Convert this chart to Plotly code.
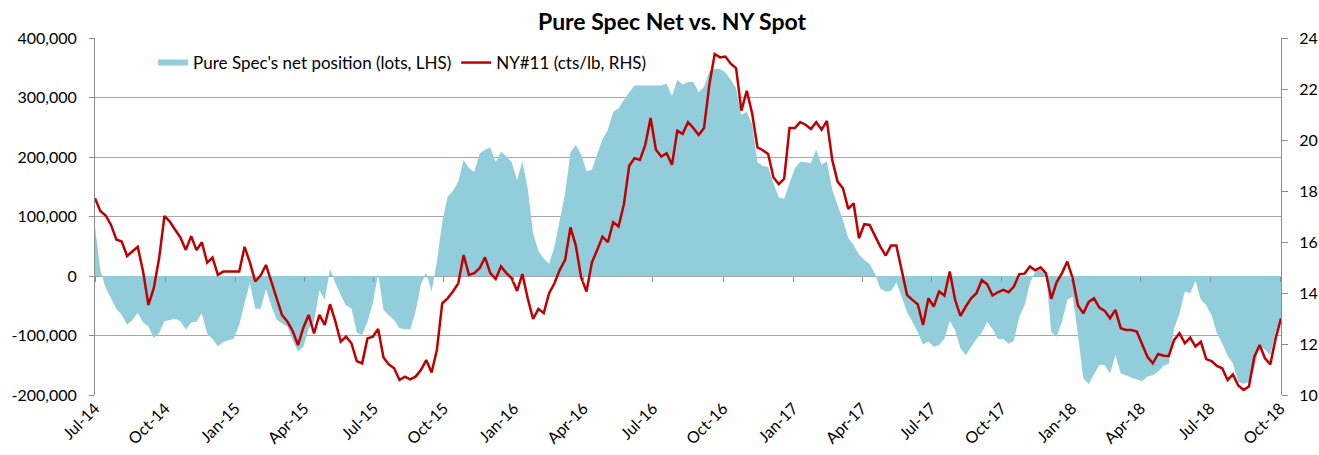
import pandas as pd
import plotly.graph_objects as go

# ---------------- data (weekly, Tuesdays, from 1 Jul 2014) ----------------
start_date = "2014-07-01"

# Pure Spec's net position, thousand lots (LHS)
net_position_k = [
    83, 10, -20, -38, -55, -65, -82, -74, -62, -78,
    -85, -104, -96, -76, -74, -72, -76, -90, -78, -77,
    -62, -97, -106, -118, -111, -108, -105, -82, -45, -12,
    -55, -55, -22, -50, -73, -80, -85, -108, -127, -119,
    -88, -77, -24, -40, 12, -12, -32, -50, -54, -95,
    -99, -77, -46, 4, -57, -66, -74, -88, -89, -90,
    -60, -14, 6, -26, 24, 91, 133, 143, 159, 195,
    181, 175, 206, 212, 216, 191, 209, 201, 191, 161,
    193, 147, 72, 42, 29, 21, 49, 94, 139, 208,
    220, 204, 176, 178, 205, 230, 246, 276, 282, 296,
    309, 320, 320, 320, 320, 320, 320, 323, 302, 330,
    322, 326, 326, 309, 318, 344, 348, 348, 342, 330,
    316, 271, 276, 255, 191, 185, 183, 156, 132, 130,
    156, 181, 192, 191, 190, 212, 187, 193, 145, 119,
    94, 64, 52, 36, 27, 20, 4, -21, -26, -25,
    -11, -35, -61, -77, -94, -115, -110, -119, -116, -105,
    -75, -91, -122, -133, -119, -106, -95, -77, -89, -106,
    -106, -114, -109, -69, -49, -12, 7, 13, 6, -94,
    -102, -77, -40, -35, -99, -172, -182, -165, -149, -150,
    -164, -133, -164, -167, -171, -174, -177, -169, -167, -161,
    -151, -147, -88, -63, -26, -29, -8, -40, -49, -66,
    -96, -113, -134, -147, -178, -181, -178, -155, -117, -124,
    -133, -94, -71,
]

# NY#11 raw sugar, cts/lb (RHS)
ny11 = [
    17.72, 17.22, 17.04, 16.67, 16.10, 16.02, 15.45, 15.65, 15.81, 14.84,
    13.53, 14.19, 15.36, 17.02, 16.80, 16.48, 16.17, 15.69, 16.23, 15.68,
    15.99, 15.19, 15.39, 14.71, 14.84, 14.84, 14.84, 14.84, 15.81, 15.19,
    14.45, 14.68, 15.10, 14.45, 13.73, 13.14, 12.88, 12.51, 11.96, 12.64,
    13.14, 12.42, 13.14, 12.75, 13.56, 12.88, 12.09, 12.29, 12.03, 11.33,
    11.24, 12.22, 12.29, 12.59, 11.47, 11.20, 11.05, 10.59, 10.72, 10.61,
    10.72, 10.98, 11.37, 10.88, 11.77, 13.60, 13.79, 14.06, 14.38, 15.49,
    14.71, 14.78, 14.97, 15.40, 14.78, 14.55, 15.04, 14.78, 14.58, 14.08,
    14.74, 13.79, 12.98, 13.38, 13.21, 13.99, 14.38, 14.91, 15.30, 16.57,
    15.86, 14.61, 14.06, 15.19, 15.69, 16.21, 15.99, 16.78, 16.61, 17.48,
    18.99, 19.29, 19.22, 19.81, 20.86, 19.62, 19.35, 19.48, 19.03, 20.36,
    20.24, 20.70, 20.47, 20.20, 20.47, 22.17, 23.37, 23.24, 23.27, 22.99,
    22.82, 21.15, 21.93, 21.05, 19.71, 19.60, 19.45, 18.53, 18.27, 18.48,
    20.47, 20.47, 20.70, 20.60, 20.43, 20.70, 20.40, 20.75, 19.22, 18.37,
    18.11, 17.30, 17.52, 16.15, 16.70, 16.67, 16.24, 15.82, 15.47, 15.86,
    15.86, 14.91, 13.92, 13.73, 13.56, 12.75, 13.79, 13.47, 14.06, 13.90,
    14.84, 13.73, 13.10, 13.47, 13.79, 13.99, 14.51, 14.34, 13.90, 14.03,
    14.12, 14.03, 14.25, 14.74, 14.76, 15.04, 14.89, 15.01, 14.78, 13.77,
    14.42, 14.78, 15.23, 14.58, 13.51, 13.20, 13.65, 13.79, 13.43, 13.30,
    13.01, 13.34, 12.62, 12.55, 12.55, 12.49, 11.96, 11.50, 11.24, 11.61,
    11.54, 11.53, 12.16, 12.42, 12.03, 12.25, 11.90, 12.09, 11.41, 11.33,
    11.14, 11.05, 10.59, 10.81, 10.37, 10.20, 10.33, 11.50, 11.96, 11.44,
    11.20, 12.22, 13.01,
]

tick_labels = ["Jul-14", "Oct-14", "Jan-15", "Apr-15", "Jul-15", "Oct-15",
               "Jan-16", "Apr-16", "Jul-16", "Oct-16", "Jan-17", "Apr-17",
               "Jul-17", "Oct-17", "Jan-18", "Apr-18", "Jul-18", "Oct-18"]
left_ticks = [-200000, -100000, 0, 100000, 200000, 300000, 400000]

assert len(net_position_k) == len(ny11)

dates = pd.date_range(start_date, periods=len(ny11), freq="7D")
tick_dates = pd.date_range("2014-07-01", periods=len(tick_labels), freq="QS")
net_lots = [v * 1000 for v in net_position_k]

# ---------------- figure ----------------
FONT = "Lato, Carlito, Calibri, sans-serif"
GRID = "#A6A6A6"
AXIS = "#8C8C8C"
xrange_ = [dates[0], dates[-1]]
W, H = 1319, 455

fig = go.Figure()
fig.add_trace(go.Scatter(
    x=dates, y=net_lots, name="Pure Spec's net position (lots, LHS)",
    mode="none", fill="tozeroy", fillcolor="#92CDDC",
    hoverinfo="skip",
))
fig.add_trace(go.Scatter(
    x=dates, y=ny11, name="NY#11 (cts/lb, RHS)", yaxis="y2",
    mode="lines", line=dict(color="#C00000", width=2.5),
))
# carrier for the tick marks drawn on the zero line
fig.add_trace(go.Scatter(
    x=dates, y=net_lots, xaxis="x2", mode="none", showlegend=False,
    hoverinfo="skip",
))

fig.update_layout(
    width=W, height=H,
    margin=dict(l=95, r=38, t=38, b=60, autoexpand=False),
    plot_bgcolor="white", paper_bgcolor="white",
    font=dict(family=FONT, size=16, color="#000000"),
    title=dict(text="<b>Pure Spec Net vs. NY Spot</b>",
               x=672 / W, xanchor="center", xref="container",
               y=1 - 22 / H, yanchor="middle", yref="container",
               font=dict(family=FONT, size=23, color="#000000")),
    showlegend=True,
    legend=dict(orientation="h", x=0.049, xanchor="left",
                y=0.93, yanchor="middle", bgcolor="rgba(0,0,0,0)",
                font=dict(family=FONT, size=17), traceorder="normal"),
    xaxis=dict(type="date", range=xrange_, tickvals=tick_dates,
               ticktext=tick_labels, tickangle=-45, ticks="",
               showgrid=False, showline=False, zeroline=False,
               automargin=False,
               tickfont=dict(family=FONT, size=16)),
    xaxis2=dict(type="date", range=xrange_, overlaying="x", anchor="free",
                position=1 / 3, tickvals=tick_dates, ticks="outside",
                ticklen=5, tickcolor=AXIS, tickwidth=1,
                showticklabels=False, showgrid=False, showline=False,
                zeroline=False, automargin=False),
    yaxis=dict(range=[-200000, 400000], tickvals=left_ticks,
               ticktext=[f"{v:,}" for v in left_ticks],
               showgrid=True, gridcolor=GRID, gridwidth=1,
               zeroline=False, showline=True, linecolor=AXIS, linewidth=1,
               ticks="outside", ticklen=5, tickcolor=AXIS,
               ticklabelstandoff=9, automargin=False,
               tickfont=dict(family=FONT, size=16)),
    yaxis2=dict(range=[10, 24], dtick=2, overlaying="y", side="right",
                showgrid=False, zeroline=False, showline=True,
                linecolor=AXIS, linewidth=1, ticks="outside", ticklen=6,
                tickcolor=AXIS, ticklabelstandoff=8, automargin=False,
                tickfont=dict(family=FONT, size=16)),
)

# remove the default 8px page margin so the figure fills the window exactly
fig.write_html(
    "out.html",
    config={"displayModeBar": False},
    post_script="document.body.style.margin='0';"
                "document.body.style.overflow='hidden';",
)
